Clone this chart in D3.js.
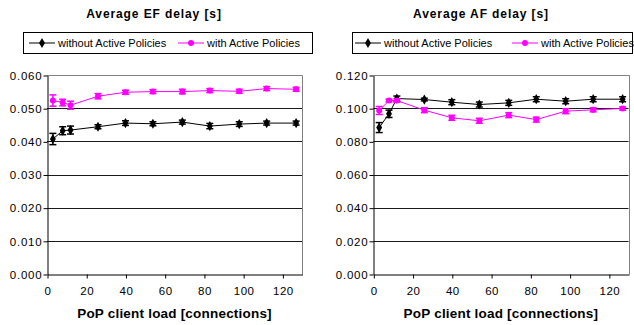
<!DOCTYPE html>
<html>
<head>
<meta charset="utf-8">
<script src="https://cdn.jsdelivr.net/npm/d3@7/dist/d3.min.js"></script>
<style>
  body { margin: 0; background: #fff; }
  svg { display: block; font-family: "Liberation Sans", Arial, sans-serif; }
</style>
</head>
<body>
<svg id="chart" width="634" height="325"></svg>
<script>
'use strict';

// client load (x values)
var loads = [3, 8, 12, 26, 40, 54, 69, 83, 98, 112, 127];
var xTicks = [0, 20, 40, 60, 80, 100, 120];

// EF delay
var efWithout    = [0.0407, 0.0432, 0.0434, 0.0444, 0.0455, 0.0453, 0.0458, 0.0446, 0.0452, 0.0455, 0.0455];
var efWithoutErr = [0.0017, 0.0012, 0.0012, 0.0006, 0.0007, 0.0006, 0.0006, 0.0008, 0.0007, 0.0006, 0.0006];
var efWith       = [0.0523, 0.0517, 0.0509, 0.0536, 0.0548, 0.0550, 0.0550, 0.0553, 0.0551, 0.0559, 0.0557];
var efWithErr    = [0.0017, 0.0010, 0.0012, 0.0008, 0.0006, 0.0006, 0.0007, 0.0006, 0.0006, 0.0006, 0.0006];
var efTicks = [0, 0.01, 0.02, 0.03, 0.04, 0.05, 0.06];

// AF delay
var afWithout    = [0.0883, 0.0966, 0.1058, 0.1052, 0.1036, 0.1022, 0.1032, 0.1054, 0.1042, 0.1054, 0.1054];
var afWithoutErr = [0.0030, 0.0022, 0.0015, 0.0008, 0.0015, 0.0015, 0.0015, 0.0015, 0.0015, 0.0015, 0.0015];
var afWith       = [0.0986, 0.1046, 0.1046, 0.0988, 0.0942, 0.0924, 0.0958, 0.0931, 0.0982, 0.0990, 0.0998];
var afWithErr    = [0.0024, 0.0008, 0.0010, 0.0015, 0.0015, 0.0015, 0.0015, 0.0015, 0.0015, 0.0012, 0.0010];
var afTicks = [0, 0.02, 0.04, 0.06, 0.08, 0.10, 0.12];

var seriesNames = ["without Active Policies", "with Active Policies"];
var colors = ["#000000", "#ff00ff"];

var svg = d3.select("#chart");

function drawPanel(p) {
  var x = d3.scaleLinear().domain([0, 130]).range([p.left, p.right]);
  var y = d3.scaleLinear().domain([0, p.ticks[p.ticks.length - 1]]).range([274, 75]);
  var g = svg.append("g");

  // title
  g.append("text")
    .attr("x", p.titleX).attr("y", 18)
    .attr("text-anchor", "middle")
    .style("font-size", "12px").style("font-weight", "bold")
    .style("letter-spacing", "0.9px")
    .text(p.title);

  // gridlines
  g.selectAll(".grid")
    .data(p.ticks.slice(1, -1))
    .enter().append("line")
      .attr("x1", p.left).attr("x2", p.right)
      .attr("y1", function(d) { return Math.round(y(d)) + 0.5; })
      .attr("y2", function(d) { return Math.round(y(d)) + 0.5; })
      .attr("stroke", "#1a1a1a").attr("stroke-width", 1);

  // plot frame top/right
  var yt = Math.round(y(p.ticks[p.ticks.length - 1])) + 0.5;
  g.append("path")
    .attr("d", "M" + p.left + "," + yt + "H" + (Math.round(p.right) + 0.5) + "V" + (Math.round(y(0)) + 0.5))
    .attr("fill", "none").attr("stroke", "#808080");

  // axes
  var yAxis = g.append("g")
    .attr("transform", "translate(" + (Math.round(p.left) + 0.5) + ",0.5)")
    .call(d3.axisLeft(y).tickValues(p.ticks).tickFormat(d3.format(".3f")).tickSize(4).tickSizeOuter(0));
  yAxis.selectAll("text")
    .style("font-size", "11.5px").style("letter-spacing", "0.8px")
    .attr("fill", "#000").attr("x", -5);
  yAxis.selectAll("line").attr("stroke", "#000");
  yAxis.select(".domain").attr("stroke", "#000");

  var xAxis = g.append("g")
    .attr("transform", "translate(0.5," + (Math.round(y(0)) + 0.5) + ")")
    .call(d3.axisBottom(x).tickValues(xTicks).tickSize(4).tickSizeOuter(0));
  xAxis.selectAll("text")
    .style("font-size", "11.5px").style("letter-spacing", "0.5px")
    .attr("fill", "#000").attr("y", 12);
  xAxis.selectAll("line").attr("stroke", "#000");
  xAxis.select(".domain").attr("stroke", "#000");

  g.append("text")
    .attr("x", (p.left + p.right) / 2).attr("y", 318)
    .attr("text-anchor", "middle")
    .style("font-size", "13.5px").style("font-weight", "bold")
    .style("letter-spacing", "0.2px")
    .text("PoP client load [connections]");

  // series
  var line = d3.line()
    .x(function(d) { return x(d[0]); })
    .y(function(d) { return y(d[1]); });

  p.series.forEach(function(s, i) {
    var data = loads.map(function(l, k) { return [l, s.values[k], s.err[k]]; });
    var sg = g.append("g");
    sg.append("path")
      .datum(data)
      .attr("d", line)
      .attr("fill", "none")
      .attr("stroke", colors[i])
      .attr("stroke-width", 1);

    var eb = sg.selectAll(".err").data(data).enter().append("g");
    eb.append("line")
      .attr("x1", function(d) { return x(d[0]); }).attr("x2", function(d) { return x(d[0]); })
      .attr("y1", function(d) { return y(d[1] - d[2]); })
      .attr("y2", function(d) { return y(d[1] + d[2]); })
      .attr("stroke", colors[i]).attr("stroke-width", 1.5);
    [-1, 1].forEach(function(sign) {
      eb.append("line")
        .attr("x1", function(d) { return x(d[0]) - 3.5; })
        .attr("x2", function(d) { return x(d[0]) + 3.5; })
        .attr("y1", function(d) { return y(d[1] + sign * d[2]); })
        .attr("y2", function(d) { return y(d[1] + sign * d[2]); })
        .attr("stroke", colors[i]).attr("stroke-width", 1.5);
    });

    sg.selectAll(".pt").data(data).enter().append("path")
      .attr("transform", function(d) { return "translate(" + x(d[0]) + "," + y(d[1]) + ")"; })
      .attr("d", d3.symbol().type(i === 0 ? d3.symbolDiamond : d3.symbolCircle).size(i === 0 ? 30 : 28))
      .attr("fill", colors[i]);
  });

  // legend
  var lg = g.append("g");
  lg.append("rect")
    .attr("x", p.legX + 0.5).attr("y", 32.5)
    .attr("width", p.legW).attr("height", 21)
    .attr("fill", "#fff").attr("stroke", "#000");
  var items = lg.selectAll(".item").data(seriesNames).enter().append("g")
    .attr("transform", function(d, i) { return "translate(" + (p.legX + p.legOff[i]) + ",43)"; });
  items.append("line")
    .attr("x1", 0).attr("x2", 26)
    .attr("stroke", function(d, i) { return colors[i]; })
    .attr("stroke-width", 1);
  items.append("path")
    .attr("transform", "translate(13,0)")
    .attr("d", function(d, i) {
      return d3.symbol().type(i === 0 ? d3.symbolDiamond : d3.symbolCircle).size(i === 0 ? 30 : 28)();
    })
    .attr("fill", function(d, i) { return colors[i]; });
  items.append("text")
    .attr("x", 29).attr("y", 4)
    .style("font-size", "11px")
    .text(function(d) { return d; });
}

drawPanel({
  title: "Average EF delay [s]", titleX: 154,
  left: 47, right: 302, ticks: efTicks,
  legX: 23, legW: 289, legOff: [6, 155],
  series: [{ values: efWithout, err: efWithoutErr }, { values: efWith, err: efWithErr }]
});

drawPanel({
  title: "Average AF delay [s]", titleX: 481,
  left: 373.3, right: 628.5, ticks: afTicks,
  legX: 352, legW: 280, legOff: [3, 160],
  series: [{ values: afWithout, err: afWithoutErr }, { values: afWith, err: afWithErr }]
});
</script>
</body>
</html>
